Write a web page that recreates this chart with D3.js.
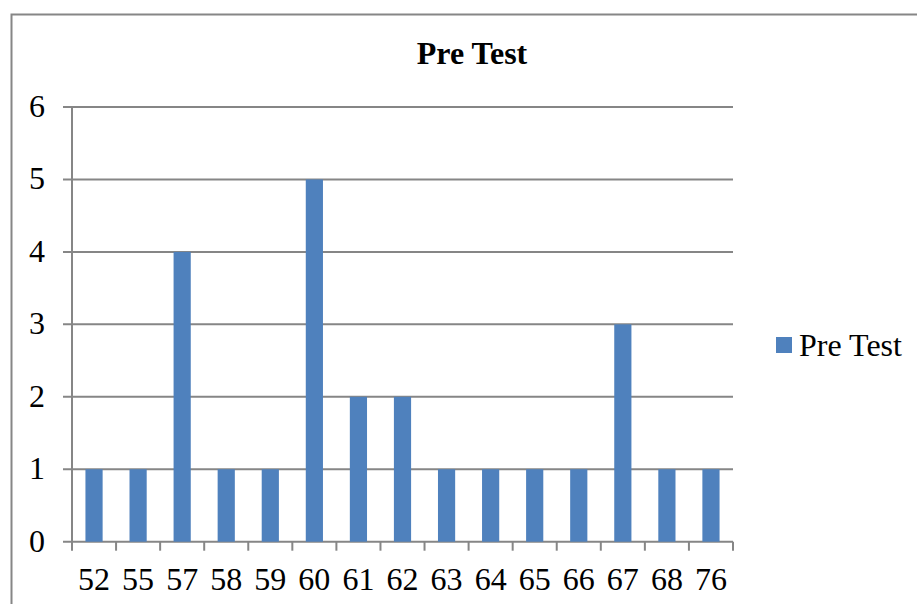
<!DOCTYPE html>
<html>
<head>
<meta charset="utf-8">
<script src="https://cdn.jsdelivr.net/npm/d3@7"></script>
<style>
  html, body { margin: 0; padding: 0; background: #fff; }
  svg { display: block; }
  text { font-family: "Liberation Serif", "Times New Roman", serif; fill: #000; }
</style>
</head>
<body>
<svg id="chart" width="917" height="604"></svg>
<script>
// Score categories and their frequencies
const categories = ["52", "55", "57", "58", "59", "60", "61", "62", "63", "64", "65", "66", "67", "68", "76"];
const preTest = [1, 1, 4, 1, 1, 5, 2, 2, 1, 1, 1, 1, 3, 1, 1];
const yTicks = [0, 1, 2, 3, 4, 5, 6];
const seriesName = "Pre Test";
const title = "Pre Test";

const svg = d3.select("#chart");
const plot = { left: 72, right: 733, top: 107, bottom: 541.7 };
const barColor = "#4F81BD";
const lineColor = "#868686";
const fontSize = 32;

// Outer chart frame
svg.append("rect")
  .attr("x", 11.5).attr("y", 14.5)
  .attr("width", 1000).attr("height", 1000)
  .attr("fill", "none").attr("stroke", lineColor).attr("stroke-width", 2);

const x = d3.scaleBand().domain(categories).range([plot.left, plot.right]).paddingInner(0).paddingOuter(0);
const y = d3.scaleLinear().domain([0, 6]).range([plot.bottom, plot.top]);

// Horizontal gridlines with outward tick stubs
svg.append("g").selectAll("line").data(yTicks).join("line")
  .attr("x1", plot.left - 9).attr("x2", plot.right)
  .attr("y1", d => y(d)).attr("y2", d => y(d))
  .attr("stroke", lineColor).attr("stroke-width", 2);

// Y axis line
svg.append("line")
  .attr("x1", plot.left).attr("x2", plot.left)
  .attr("y1", plot.top).attr("y2", plot.bottom)
  .attr("stroke", lineColor).attr("stroke-width", 2);

// Y tick labels
svg.append("g").selectAll("text").data(yTicks).join("text")
  .attr("x", 45).attr("y", d => y(d) + 10)
  .attr("text-anchor", "end")
  .attr("font-size", fontSize)
  .text(d => d);

// Bars
const barW = x.bandwidth() * 0.39;
svg.append("g").selectAll("rect").data(preTest).join("rect")
  .attr("x", (d, i) => x(categories[i]) + (x.bandwidth() - barW) / 2)
  .attr("width", barW)
  .attr("y", d => y(d))
  .attr("height", d => y(0) - y(d))
  .attr("fill", barColor);

// X axis tick marks at category boundaries
const boundaries = categories.map(c => x(c)).concat([plot.right]);
svg.append("g").selectAll("line").data(boundaries).join("line")
  .attr("x1", d => d).attr("x2", d => d)
  .attr("y1", plot.bottom).attr("y2", plot.bottom + 9)
  .attr("stroke", lineColor).attr("stroke-width", 2);

// X category labels
svg.append("g").selectAll("text").data(categories).join("text")
  .attr("x", d => x(d) + x.bandwidth() / 2)
  .attr("y", 590)
  .attr("text-anchor", "middle")
  .attr("font-size", fontSize)
  .text(d => d);

// Title
svg.append("text")
  .attr("x", 472).attr("y", 64)
  .attr("text-anchor", "middle")
  .attr("font-size", fontSize).attr("font-weight", "bold")
  .text(title);

// Legend
svg.append("rect")
  .attr("x", 776).attr("y", 337)
  .attr("width", 16).attr("height", 16)
  .attr("fill", barColor);
svg.append("text")
  .attr("x", 799).attr("y", 356)
  .attr("font-size", fontSize)
  .text(seriesName);
</script>
</body>
</html>
